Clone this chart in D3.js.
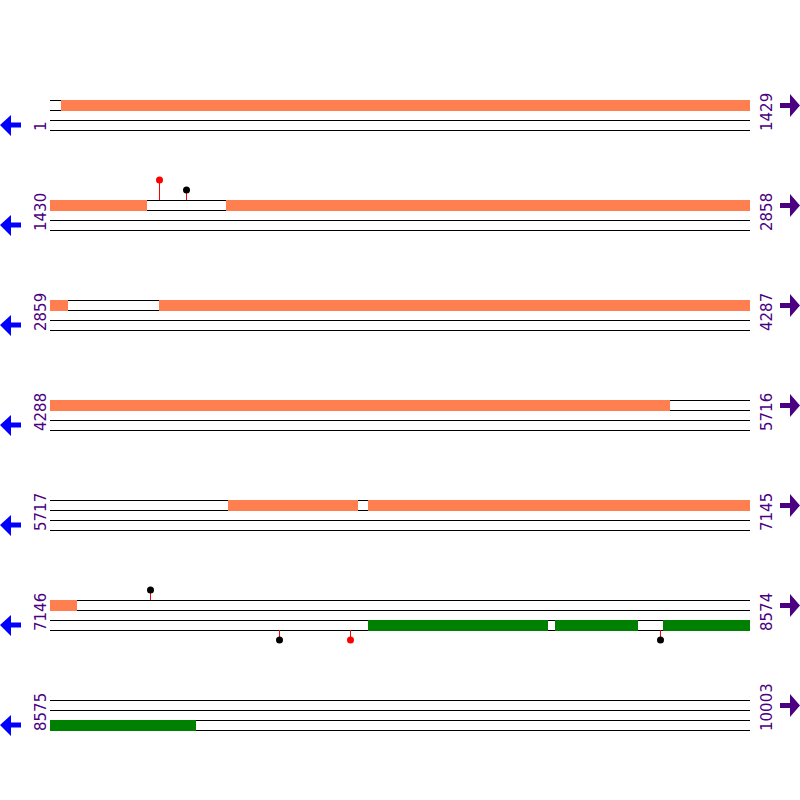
<!DOCTYPE html>
<html>
<head>
<meta charset="utf-8">
<script src="https://cdn.jsdelivr.net/npm/d3@7"></script>
<style>
  body { margin: 0; background: #fff; }
  svg { display: block; }
</style>
</head>
<body>
<div id="chart"></div>
<script>
// Sequence map, 1429 bp per row //
const width = 800;
const height = 800;

const rowStarts = [1, 1430, 2859, 4288, 5717, 7146, 8575];
const rowEnds = [1429, 2858, 4287, 5716, 7145, 8574, 10003];
const bpPerRow = 1429;

// forward strand features (orange)
const fwdStarts = [23, 1789, 3081, 6080, 6366];
const fwdEnds = [1628, 2894, 5552, 6344, 7201];

// reverse strand features (green)
const revStarts = [7795, 8177, 8397];
const revEnds = [8162, 8346, 8873];

// cut sites
const fwdSitePos = [1651, 1707, 7349];
const fwdSiteColor = ["red", "black", "black"];
const fwdSiteTier = [2, 1, 1];
const revSitePos = [7612, 7757, 8390];
const revSiteColor = ["black", "red", "black"];
const revSiteTier = [1, 1, 1];

const left = 50, right = 750;
const rowStep = 100, top0 = 100;
const trackH = 10, trackGap = 10;

const featColor = "#ff7f50";
const revColor = "#008000";
const labelColor = "#4b0082";

const svg = d3.select("#chart")
  .append("svg")
  .attr("width", width)
  .attr("height", height);

const rows = rowStarts.map((s, i) => ({ i, start: s, end: rowEnds[i] }));

const rowY = d3.scaleLinear().domain([0, 1]).range([top0, top0 + rowStep]);

// clip a list of [start,end] ranges to one row
function clipToRow(starts, ends, row) {
  const out = [];
  starts.forEach((s, k) => {
    const a = Math.max(s, row.start);
    const b = Math.min(ends[k], row.end);
    if (a <= b) out.push([a, b]);
  });
  return out;
}

const rowG = svg.selectAll(".row")
  .data(rows)
  .enter()
  .append("g")
  .attr("class", "row")
  .attr("transform", d => `translate(0, ${rowY(d.i)})`);

rowG.each(function(row) {
  const g = d3.select(this);
  const x = d3.scaleLinear()
    .domain([row.start - 1, row.start - 1 + bpPerRow])
    .range([left, right]);

  // track lines
  const lineYs = [0, trackH, trackH + trackGap, 2 * trackH + trackGap];
  g.selectAll("line.track")
    .data(lineYs)
    .enter()
    .append("line")
    .attr("class", "track")
    .attr("x1", left)
    .attr("x2", right)
    .attr("y1", d => d + 0.5)
    .attr("y2", d => d + 0.5)
    .attr("stroke", "#000")
    .attr("stroke-width", 1)
    .attr("shape-rendering", "crispEdges");

  // forward features
  g.selectAll("rect.fwd")
    .data(clipToRow(fwdStarts, fwdEnds, row))
    .enter()
    .append("rect")
    .attr("class", "fwd")
    .attr("x", d => x(d[0] - 1))
    .attr("width", d => x(d[1]) - x(d[0] - 1))
    .attr("y", 0)
    .attr("height", trackH + 1)
    .attr("fill", featColor)
    .attr("shape-rendering", "crispEdges");

  // reverse features
  g.selectAll("rect.rev")
    .data(clipToRow(revStarts, revEnds, row))
    .enter()
    .append("rect")
    .attr("class", "rev")
    .attr("x", d => x(d[0] - 1))
    .attr("width", d => x(d[1]) - x(d[0] - 1))
    .attr("y", trackH + trackGap)
    .attr("height", trackH + 1)
    .attr("fill", revColor)
    .attr("shape-rendering", "crispEdges");

  // forward sites (above)
  const fs = fwdSitePos.map((p, k) => ({ p, c: fwdSiteColor[k], t: fwdSiteTier[k] }))
    .filter(d => d.p >= row.start && d.p <= row.end);
  const fsG = g.selectAll("g.fsite").data(fs).enter().append("g").attr("class", "fsite");
  fsG.append("line")
    .attr("x1", d => Math.round(x(d.p)) + 0.5)
    .attr("x2", d => Math.round(x(d.p)) + 0.5)
    .attr("y1", 0)
    .attr("y2", d => -10 * d.t)
    .attr("stroke", "red")
    .attr("shape-rendering", "crispEdges");
  fsG.append("circle")
    .attr("cx", d => Math.round(x(d.p)) + 0.5)
    .attr("cy", d => -10 * d.t)
    .attr("r", 3.5)
    .attr("fill", d => d.c);

  // reverse sites (below)
  const rs = revSitePos.map((p, k) => ({ p, c: revSiteColor[k], t: revSiteTier[k] }))
    .filter(d => d.p >= row.start && d.p <= row.end);
  const bottom = 2 * trackH + trackGap;
  const rsG = g.selectAll("g.rsite").data(rs).enter().append("g").attr("class", "rsite");
  rsG.append("line")
    .attr("x1", d => Math.round(x(d.p)) + 0.5)
    .attr("x2", d => Math.round(x(d.p)) + 0.5)
    .attr("y1", bottom)
    .attr("y2", d => bottom + 10 * d.t)
    .attr("stroke", "red")
    .attr("shape-rendering", "crispEdges");
  rsG.append("circle")
    .attr("cx", d => Math.round(x(d.p)) + 0.5)
    .attr("cy", d => bottom + 10 * d.t)
    .attr("r", 3.5)
    .attr("fill", d => d.c);

  // position labels
  g.append("text")
    .attr("transform", `translate(46, ${bottom + 1}) rotate(-90)`)
    .attr("font-family", "DejaVu Sans, sans-serif")
    .attr("font-size", 15)
    .attr("fill", labelColor)
    .text(row.start);
  g.append("text")
    .attr("transform", `translate(772, ${bottom + 1}) rotate(-90)`)
    .attr("font-family", "DejaVu Sans, sans-serif")
    .attr("font-size", 15)
    .attr("fill", labelColor)
    .text(row.end);

  // strand arrows
  g.append("path")
    .attr("d", "M0,25 L11,15 L11,22.5 L21,22.5 L21,27.5 L11,27.5 L11,36 Z")
    .attr("fill", "#0000ff");
  g.append("path")
    .attr("d", "M800,5.5 L790,-6 L790,3 L780,3 L780,8 L790,8 L790,17 Z")
    .attr("fill", labelColor);
});
</script>
</body>
</html>
